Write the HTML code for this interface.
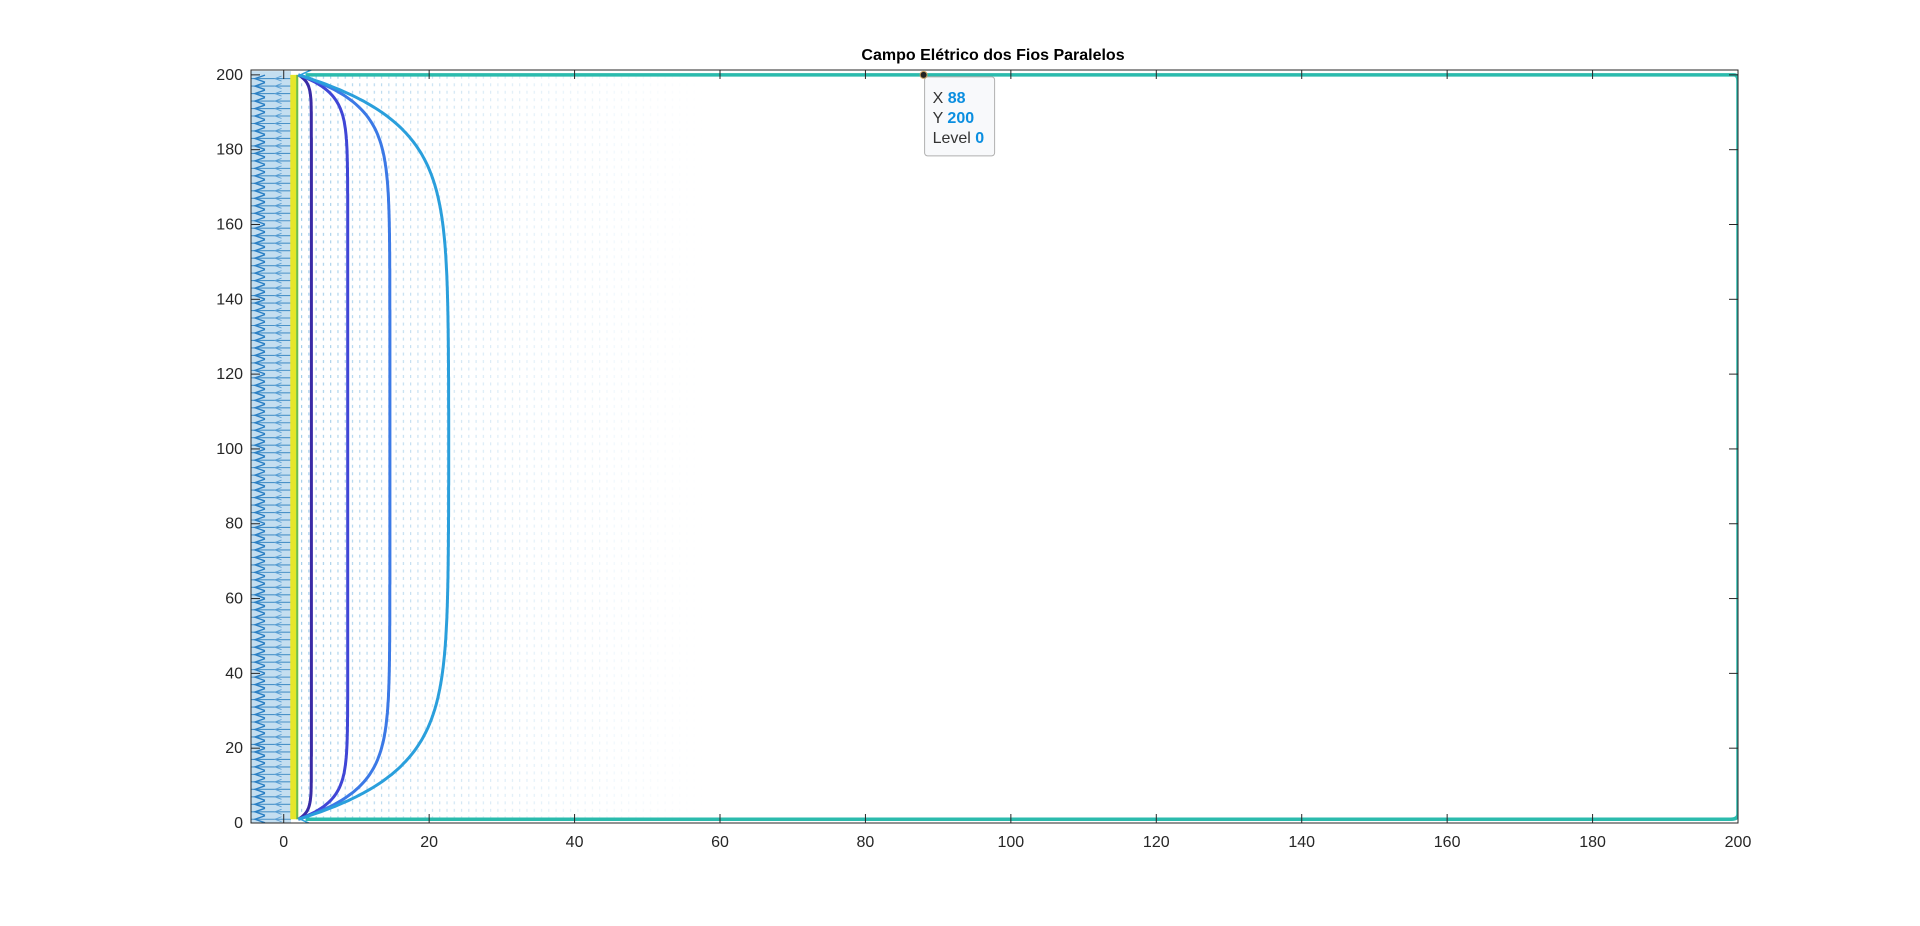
<!DOCTYPE html>
<html><head><meta charset="utf-8"><style>
html,body{margin:0;padding:0;background:#fff;width:1920px;height:926px;overflow:hidden}
svg{display:block}
text{font-family:"Liberation Sans",Arial,sans-serif}
</style></head><body>
<svg id="chart" width="1920" height="926" viewBox="0 0 1920 926" xmlns="http://www.w3.org/2000/svg">
<defs>
<pattern id="dots" width="7.27" height="7.48" patternUnits="userSpaceOnUse">
<rect x="3" y="1" width="1.1" height="3" fill="#6fb2de"/>
</pattern>
<linearGradient id="fade" x1="0" x2="1" y1="0" y2="0">
<stop offset="0" stop-color="#fff" stop-opacity="0.7"/>
<stop offset="0.5" stop-color="#fff" stop-opacity="0.25"/>
<stop offset="1" stop-color="#fff" stop-opacity="0"/>
</linearGradient>
<mask id="fadeMask"><rect id="maskRect" fill="url(#fade)"/></mask>
<clipPath id="axClip"><rect id="clipRect"/></clipPath>
</defs>
<text x="993" y="60" text-anchor="middle" font-size="16" font-weight="bold" fill="#000">Campo Elétrico dos Fios Paralelos</text>
<g id="plot" clip-path="url(#axClip)"></g>
<g id="axes"></g>
<g id="tip"></g>
</svg>
<script>
const xTicks=[0,20,40,60,80,100,120,140,160,180,200];
const yTicks=[0,20,40,60,80,100,120,140,160,180,200];
const fieldLineWidths=[3.8,8.8,14.6,22.7];
const fieldLineColors=['#3a2ba6','#4046d6','#3b79e6','#2a9fdc'];
const wireX=[2];
const wireYTop=[200];
const wireYBot=[1];
const contourY=[200,1];
const contourXEnd=[200];
const tipPoint=[88,200,0];

const X0=251,X1=1738,Y0=70,Y1=823;
const xmin=-4.5,xmax=200,ymin=0,ymax=201.3;
const sx=v=>X0+(v-xmin)/(xmax-xmin)*(X1-X0);
const sy=v=>Y1-(v-ymin)/(ymax-ymin)*(Y1-Y0);
const NS='http://www.w3.org/2000/svg';
function mk(t,a,p){const e=document.createElementNS(NS,t);for(const k in a)e.setAttribute(k,a[k]);p.appendChild(e);return e;}
const plot=document.getElementById('plot'),axes=document.getElementById('axes'),tip=document.getElementById('tip');
const cr=document.getElementById('clipRect');cr.setAttribute('x',X0);cr.setAttribute('y',Y0);cr.setAttribute('width',X1-X0);cr.setAttribute('height',Y1-Y0);

const mr=document.getElementById('maskRect');
mr.setAttribute('x',sx(wireX[0]));mr.setAttribute('y',sy(200));mr.setAttribute('width',sx(58)-sx(wireX[0]));mr.setAttribute('height',sy(1)-sy(200));
const dots=mk('rect',{x:sx(wireX[0]),y:sy(200),width:sx(58)-sx(wireX[0]),height:sy(1)-sy(200),fill:'url(#dots)',mask:'url(#fadeMask)'},plot);



const band=mk('g',{},plot);


mk('rect',{x:X0,y:sy(201),width:sx(1)-X0,height:sy(0)-sy(201),fill:'#c4def0'},band);
for(let y=1;y<=200;y+=2){
  mk('line',{x1:X0,x2:sx(1),y1:sy(y),y2:sy(y),stroke:'#4a92c8','stroke-width':1.1},band);
  mk('path',{d:`M${X0+14},${sy(y)-3.5} L${X0+4},${sy(y)} L${X0+14},${sy(y)+3.5}`,fill:'none',stroke:'#2a7fc4','stroke-width':1.4},band);
  mk('path',{d:`M${sx(-0.3)},${sy(y)-2.5} L${sx(-1.2)},${sy(y)} L${sx(-0.3)},${sy(y)+2.5}`,fill:'none',stroke:'#5aa0d6','stroke-width':0.9},band);
}
const yb=mk('rect',{x:sx(0.9),y:sy(200),width:sx(2)-sx(0.9),height:sy(1)-sy(200),fill:'#e6e62a'},plot);


mk('line',{x1:sx(1.85),x2:sx(1.85),y1:sy(200),y2:sy(1),stroke:'#6fbf4a','stroke-width':2},plot);

const cl=mk('path',{d:`M${sx(wireX[0]+1)},${sy(contourY[0])} L${sx(contourXEnd[0])-4},${sy(contourY[0])} Q${sx(contourXEnd[0])},${sy(contourY[0])} ${sx(contourXEnd[0])},${sy(contourY[0])+6} L${sx(contourXEnd[0])},${sy(contourY[1])-5} Q${sx(contourXEnd[0])},${sy(contourY[1])} ${sx(contourXEnd[0])-7},${sy(contourY[1])} L${sx(wireX[0]+1)},${sy(contourY[1])}`,fill:'none',stroke:'#2bbbad','stroke-width':3.5},plot);



fieldLineWidths.forEach((W,i)=>{
  const s=(W-wireX[0])*0.55+1;
  let d='';
  for(let y=wireYTop[0];y>=wireYBot[0];y-=0.5){
    const x=wireX[0]+(W-wireX[0])*(1-Math.exp(-(wireYTop[0]-y)/s))*(1-Math.exp(-(y-wireYBot[0])/s));
    d+=(d?'L':'M')+sx(x).toFixed(1)+','+sy(y).toFixed(1);
  }
  const p=mk('path',{d:d,fill:'none',stroke:fieldLineColors[i],'stroke-width':3},plot);
  
  
});
mk('path',{d:`M${sx(4)},${sy(201.5)} L${sx(2.3)},${sy(200)} L${sx(4)},${sy(199)}`,fill:'none',stroke:'#2aa0dc','stroke-width':1.5},plot);
mk('path',{d:`M${sx(4)},${sy(2.5)} L${sx(2.3)},${sy(1)} L${sx(4)},${sy(-0.5)}`,fill:'none',stroke:'#2aa0dc','stroke-width':1.5},plot);

const box=mk('rect',{x:X0,y:Y0,width:X1-X0,height:Y1-Y0,fill:'none',stroke:'#262626','stroke-width':1},axes);


xTicks.forEach(v=>{
  const x=sx(v);
  mk('line',{x1:x,x2:x,y1:Y1,y2:Y1-9,stroke:'#262626'},axes);
  mk('line',{x1:x,x2:x,y1:Y0,y2:Y0+9,stroke:'#262626'},axes);
  const t=mk('text',{x:x,y:Y1+24,'text-anchor':'middle','font-size':16,fill:'#262626'},axes);
  t.textContent=v;
  
  
});
yTicks.forEach(v=>{
  const y=sy(v);
  mk('line',{x1:X0,x2:X0+9,y1:y,y2:y,stroke:'#262626'},axes);
  mk('line',{x1:X1,x2:X1-9,y1:y,y2:y,stroke:'#262626'},axes);
  const t=mk('text',{x:X0-8,y:y+5,'text-anchor':'end','font-size':16,fill:'#262626'},axes);
  t.textContent=v;
  
  
});

const px=sx(tipPoint[0]),py=sy(tipPoint[1]);
const tb=mk('g',{},tip);


mk('rect',{x:px+1,y:py+2,width:70,height:79,rx:3,fill:'#f8f9fb',stroke:'#b0b0b0'},tb);
mk('circle',{cx:px,cy:py,r:3.5,fill:'#222',stroke:'#c8a060','stroke-width':1},tb);
const labels=[['X ',tipPoint[0]],['Y ',tipPoint[1]],['Level ',tipPoint[2]]];
labels.forEach((l,i)=>{
  const t=mk('text',{x:px+9,y:py+28+i*20,'font-size':16,fill:'#333'},tb);
  t.textContent=l[0];
  const s=mk('tspan',{fill:'#0a8ee0','font-weight':'bold'},t);s.textContent=l[1];
});
</script>
</body></html>
